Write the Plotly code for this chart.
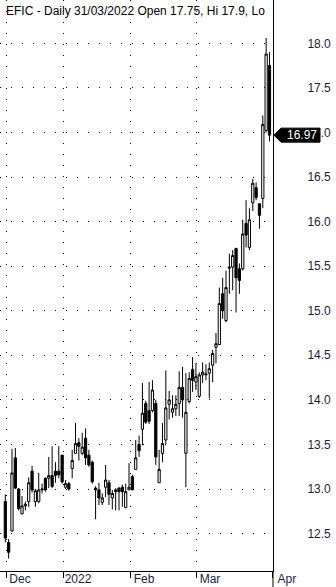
import plotly.graph_objects as go

# ---- data ----
opens = [12.86, 12.40, 12.53, 13.35, 13.00, 12.72, 12.81, 12.86, 13.20, 12.86,
         12.86, 12.99, 13.12, 13.12, 13.15, 13.20, 13.20, 13.38, 13.02, 13.06,
         13.23, 13.40, 13.52, 13.40, 13.57, 13.38, 13.30, 13.01, 12.99, 12.85,
         13.02, 13.07, 12.90, 12.97, 13.01, 13.02, 12.79, 12.99, 13.14, 13.22,
         13.50, 13.67, 13.96, 13.88, 13.88, 13.96, 13.07, 13.40, 13.55, 13.95,
         13.86, 13.90, 13.96, 14.14, 13.40, 13.98, 14.34, 14.20, 14.04, 14.28,
         14.28, 14.30, 14.39, 14.59, 14.62, 15.19, 14.89, 15.49, 15.49, 15.70,
         15.47, 15.47, 15.98, 15.71, 16.21, 16.38, 16.20, 16.26, 17.02, 17.75]
highs = [12.94, 12.44, 13.45, 13.46, 13.01, 12.92, 12.86, 13.13, 13.26, 13.00,
         13.18, 13.06, 13.13, 13.36, 13.48, 13.30, 13.48, 13.38, 13.10, 13.08,
         13.44, 13.74, 13.57, 13.63, 13.68, 13.44, 13.32, 13.03, 13.07, 12.95,
         13.27, 13.10, 12.99, 13.01, 13.02, 13.05, 13.06, 13.29, 13.16, 13.55,
         13.60, 14.19, 13.99, 14.20, 14.22, 14.00, 13.44, 13.74, 14.33, 14.10,
         14.05, 14.05, 14.32, 14.37, 14.30, 14.31, 14.48, 14.41, 14.31, 14.42,
         14.40, 14.42, 14.56, 14.75, 15.26, 15.37, 15.45, 15.64, 15.68, 15.70,
         15.53, 16.02, 16.24, 16.15, 16.48, 16.44, 16.20, 17.19, 18.06, 17.90]
lows = [12.40, 12.22, 12.52, 13.00, 12.76, 12.72, 12.76, 12.80, 12.96, 12.80,
        12.84, 12.95, 12.97, 13.01, 13.01, 13.07, 13.12, 13.06, 13.00, 12.98,
        13.12, 13.40, 13.32, 13.38, 13.27, 13.25, 13.06, 12.66, 12.82, 12.82,
        12.91, 12.82, 12.77, 12.76, 12.76, 12.80, 12.79, 12.99, 12.99, 13.22,
        13.36, 13.49, 13.73, 13.73, 13.86, 13.27, 13.07, 13.30, 13.50, 13.78,
        13.80, 13.82, 13.82, 13.80, 13.02, 13.96, 14.09, 14.11, 14.02, 14.19,
        14.22, 14.02, 14.20, 14.41, 14.62, 14.91, 14.87, 15.19, 15.23, 14.98,
        15.19, 15.45, 15.71, 15.68, 16.12, 16.24, 15.92, 16.15, 17.00, 16.90]
closes = [12.45, 12.29, 13.18, 13.01, 12.78, 12.81, 12.83, 13.07, 12.99, 12.98,
          12.99, 13.00, 12.99, 13.15, 13.03, 13.15, 13.16, 13.08, 13.06, 13.00,
          13.32, 13.51, 13.48, 13.47, 13.35, 13.27, 13.08, 12.99, 12.90, 12.90,
          13.10, 12.94, 12.95, 12.99, 12.97, 12.97, 12.97, 13.02, 12.99, 13.35,
          13.43, 13.85, 13.75, 13.76, 14.11, 13.36, 13.22, 13.51, 13.91, 14.00,
          13.90, 13.95, 14.14, 14.00, 13.86, 14.24, 14.22, 14.26, 14.28, 14.31,
          14.29, 14.35, 14.52, 14.63, 15.08, 15.00, 15.26, 15.48, 15.62, 15.37,
          15.34, 15.86, 15.85, 16.02, 16.43, 16.27, 16.07, 17.09, 17.88, 16.97]
bars = list(range(len(opens)))

month_pos = [0.21, 17.55, 37.29, 57.03, 80.0]
month_labels = ["Dec", "2022", "Feb", "Mar", "Apr"]

y_ticks = [12.5, 13.0, 13.5, 14.0, 14.5, 15.0, 15.5, 16.0, 16.5, 17.0, 17.5, 18.0]
y_tick_labels = ["12.5", "13.0", "13.5", "14.0", "14.5", "15.0", "15.5", "16.0",
                 "16.5", "17.0", "17.5", "18.0"]

title_text = "EFIC - Daily 31/03/2022 Open 17.75, Hi 17.9, Lo"
last_close = closes[-1]

FONT = "Liberation Sans, Arial, sans-serif"
LABEL_COLOR = "#1c1c3c"
DOTS = "1px,10px"

fig = go.Figure()
fig.add_trace(go.Candlestick(
    x=bars, open=opens, high=highs, low=lows, close=closes,
    increasing=dict(line=dict(color="black", width=1), fillcolor="white"),
    decreasing=dict(line=dict(color="black", width=1), fillcolor="black"),
    whiskerwidth=0,
    hoverinfo="skip",
))

fig.update_layout(
    width=336, height=587,
    margin=dict(l=0, r=63, t=0, b=16),
    paper_bgcolor="white", plot_bgcolor="white",
    showlegend=False,
    boxgap=0.05,
    font=dict(family=FONT, size=12, color=LABEL_COLOR),
)

fig.update_xaxes(
    range=[-1.585, 80.05],
    rangeslider=dict(visible=False),
    tickmode="array", tickvals=month_pos, ticktext=month_labels,
    ticks="outside", ticklen=6, tickwidth=1, tickcolor="black",
    ticklabelshift=14, ticklabelstandoff=-9,
    showgrid=True, gridcolor="black", gridwidth=1, griddash=DOTS,
    showline=True, linecolor="black", linewidth=1,
    zeroline=False,
    tickfont=dict(family=FONT, size=12, color=LABEL_COLOR),
)

fig.update_yaxes(
    range=[12.080, 18.486],
    side="right",
    tickmode="array", tickvals=y_ticks, ticktext=y_tick_labels,
    ticks="", ticklabelstandoff=31,
    showgrid=True, gridcolor="black", gridwidth=1, griddash=DOTS,
    showline=True, linecolor="black", linewidth=1,
    zeroline=False,
    tickfont=dict(family=FONT, size=12, color=LABEL_COLOR),
)

# extension of the price-axis line into the bottom margin
fig.add_shape(type="line", xref="paper", yref="paper", x0=1, x1=1, y0=0, y1=-0.03,
              line=dict(color="black", width=1), layer="above")

# last price marker (arrow box anchored on the last close)
fig.add_shape(type="path", xref="paper", yref="y",
              xsizemode="pixel", ysizemode="pixel",
              xanchor=1, yanchor=last_close,
              path="M1,0 L8,7 L47,7 L47,-7 L8,-7 Z",
              fillcolor="black", line=dict(color="black", width=1), layer="above")
fig.add_annotation(xref="paper", yref="y", x=1, y=last_close,
                   text=f"{last_close:.2f}", showarrow=False,
                   xanchor="center", yanchor="middle", xshift=28.5,
                   font=dict(family=FONT, size=12, color="white"))

# chart caption
fig.add_annotation(xref="paper", yref="paper", x=4 / 273, y=1 - 11 / 571,
                   text=title_text, showarrow=False,
                   xanchor="left", yanchor="middle",
                   font=dict(family=FONT, size=12, color="black"))

fig.write_html("out.html")
